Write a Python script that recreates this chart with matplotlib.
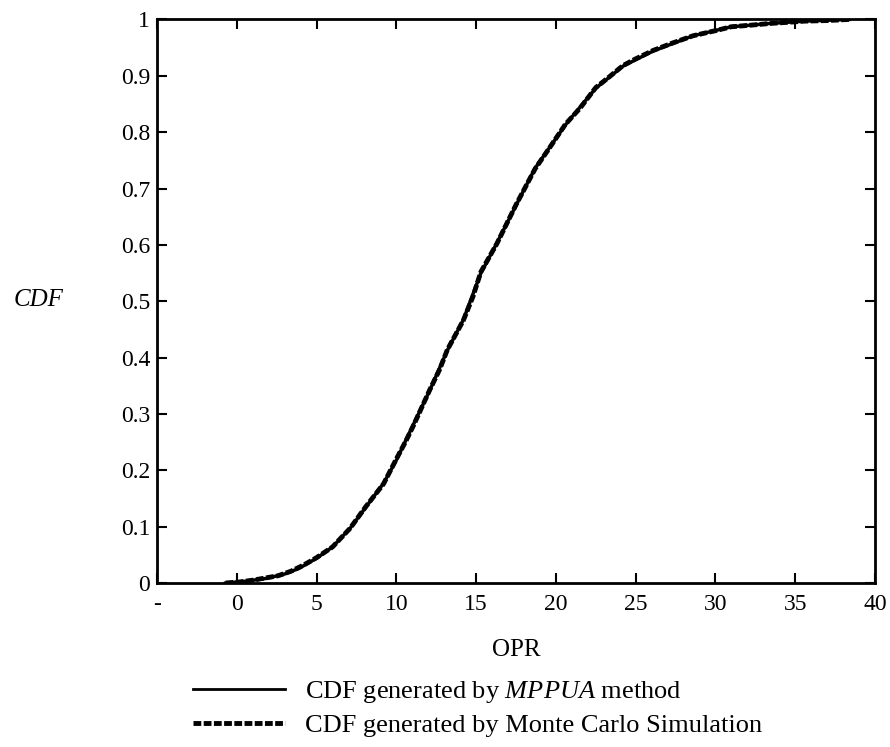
import matplotlib.pyplot as plt
import matplotlib.lines as mlines

plt.rcParams['font.family'] = ['Liberation Serif', 'DejaVu Serif']
plt.rcParams['mathtext.fontset'] = 'custom'
plt.rcParams['mathtext.rm'] = 'Liberation Serif'
plt.rcParams['mathtext.it'] = 'Liberation Serif:italic'

# CDF of OPR
opr_mppua = [-0.7, 0.5, 1.8, 3.0, 3.9, 5.0, 6.0, 7.1, 8.1, 9.2, 10.0, 11.1, 12.1,
             13.2, 14.2, 15.3, 16.3, 17.5, 18.7, 20.6, 22.5, 24.2, 26.1, 28.6,
             31.0, 33.5, 35.6, 38.4]
cdf_mppua = [0.0, 0.003, 0.008, 0.016, 0.026, 0.044, 0.064, 0.097, 0.135, 0.177,
             0.218, 0.283, 0.342, 0.413, 0.467, 0.550, 0.603, 0.670, 0.736, 0.813,
             0.878, 0.917, 0.944, 0.971, 0.987, 0.993, 0.997, 1.0]

opr_mc = [-0.7, 0.2, 1.0, 1.8, 2.6, 3.4, 4.2, 5.0, 6.0, 7.1, 8.1, 9.2, 10.0, 10.6,
          11.1, 12.1, 12.7, 13.2, 14.2, 14.8, 15.3, 16.3, 17.5, 18.7, 19.6, 20.6,
          21.5, 22.5, 23.3, 24.2, 25.0, 26.1, 27.3, 28.6, 30.0, 31.0, 32.3, 33.5,
          34.6, 35.6, 37.0, 38.4]
cdf_mc = [0.0, 0.002, 0.005, 0.009, 0.013, 0.021, 0.032, 0.045, 0.064, 0.097,
          0.136, 0.176, 0.220, 0.252, 0.281, 0.343, 0.378, 0.414, 0.466, 0.508,
          0.552, 0.602, 0.671, 0.735, 0.772, 0.814, 0.842, 0.879, 0.897, 0.918,
          0.930, 0.945, 0.958, 0.971, 0.980, 0.987, 0.990, 0.993, 0.995, 0.997,
          0.998, 1.0]

x_ticks = [-5, 0, 5, 10, 15, 20, 25, 30, 35, 40]
x_ticklabels = ['-', '0', '5', '10', '15', '20', '25', '30', '35', '40']
y_ticks = [0, 0.1, 0.2, 0.3, 0.4, 0.5, 0.6, 0.7, 0.8, 0.9, 1]
y_ticklabels = ['0', '0.1', '0.2', '0.3', '0.4', '0.5', '0.6', '0.7', '0.8', '0.9', '1']

fig = plt.figure(figsize=(8.9, 7.47), dpi=100)
ax = fig.add_axes([0.1764, 0.2195, 0.8067, 0.7545])

ax.plot(opr_mppua, cdf_mppua, color='black', lw=2.5)
ax.plot(opr_mc, cdf_mc, color='black', lw=3.5, linestyle=(0, (1.6, 0.5)))

ax.set_xlim(-5, 40)
ax.set_ylim(0, 1)
ax.set_xticks(x_ticks)
ax.set_xticklabels(x_ticklabels)
ax.set_yticks(y_ticks)
ax.set_yticklabels(y_ticklabels)
ax.tick_params(direction='in', length=7, width=1.5, top=True, right=True,
               labelsize=17)
ax.tick_params(axis='x', pad=8)
ax.tick_params(axis='y', pad=5)
for s in ax.spines.values():
    s.set_linewidth(2)

ax.set_xlabel('OPR', fontsize=18, labelpad=17)
fig.text(0.043, 0.598, 'CDF', fontsize=18, style='italic', ha='center', va='center')

h1 = mlines.Line2D([], [], color='black', lw=2)
h2 = mlines.Line2D([], [], color='black', lw=3.5, linestyle=(0, (1.6, 0.5)))
fig.legend([h1, h2],
           ['CDF generated by $\\mathit{MPPUA}$ method',
            'CDF generated by Monte Carlo Simulation'],
           loc='upper left', bbox_to_anchor=(0.217, 0.091), frameon=False,
           borderpad=0, borderaxespad=0,
           fontsize=19, handlelength=3.5, handletextpad=0.75, labelspacing=0.34)

plt.savefig('out.png')
